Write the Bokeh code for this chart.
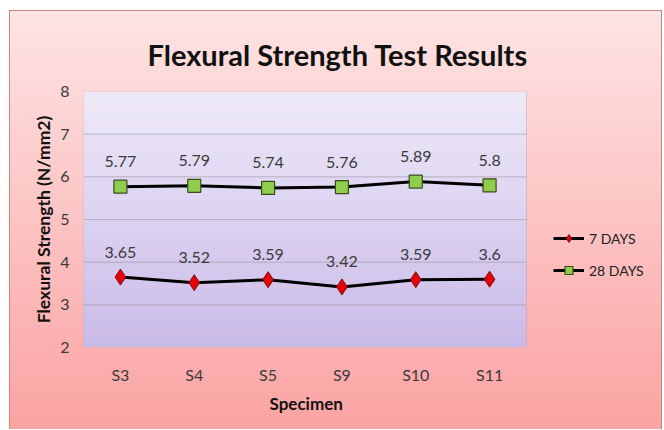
from bokeh.plotting import figure
from bokeh.models import (ColumnDataSource, LabelSet, Legend, LegendItem, BoxAnnotation,
                          Title, Range1d, FixedTicker)
from bokeh.core.properties import value
from bokeh.embed import file_html
from bokeh.resources import INLINE

specimens = ["S3", "S4", "S5", "S9", "S10", "S11"]
days7 = [3.65, 3.52, 3.59, 3.42, 3.59, 3.6]
days28 = [5.77, 5.79, 5.74, 5.76, 5.89, 5.8]
labels7 = ["3.65", "3.52", "3.59", "3.42", "3.59", "3.6"]
labels28 = ["5.77", "5.79", "5.74", "5.76", "5.89", "5.8"]
y_ticks = [2, 3, 4, 5, 6, 7, 8]

FONT = "Lato"
xpos = list(range(len(specimens)))
x_lo, x_hi = -0.5, len(specimens) - 0.5

FRAME_W = 575
x_end = x_lo + FRAME_W / (443 / len(specimens))

p = figure(x_range=Range1d(x_lo, x_end), y_range=Range1d(2, 8), width=653, height=419,
           output_backend="svg", toolbar_location=None,
           min_border_left=73, min_border_right=5, min_border_top=80, min_border_bottom=83,
           margin=(10, 0, 0, 9),
           styles={"background": "linear-gradient(#fee4e4, #fba3a3)",
                   "border-left": "1px solid #c98585", "border-top": "1px solid #c98585",
                   "border-right": "1px solid #c98585"})
p.border_fill_alpha = 0
p.background_fill_alpha = 0
p.outline_line_color = None

# lavender gradient in plot area
top = (238, 234, 249)
bot = (200, 186, 232)
n = 30
for i in range(n):
    t = (i + 0.5) / n
    c = tuple(int(round(bot[k] + (top[k] - bot[k]) * t)) for k in range(3))
    p.add_layout(BoxAnnotation(left=x_lo, right=x_hi,
                               bottom=2 + 6 * i / n, top=2 + 6 * (i + 1) / n,
                               fill_color="#%02x%02x%02x" % c, fill_alpha=1,
                               line_alpha=0, level="underlay"))
# horizontal grid lines limited to the plot area
for yt in y_ticks[1:-1]:
    p.add_layout(BoxAnnotation(left=x_lo, right=x_hi, bottom=yt, top=yt,
                               fill_alpha=0, line_color="#95939f", line_width=1,
                               level="underlay"))
# plot area border
p.add_layout(BoxAnnotation(left=x_lo, right=x_hi, bottom=2, top=8, fill_alpha=0,
                           line_color="#8f8aa6", line_width=1, level="underlay"))

src7 = ColumnDataSource(dict(x=xpos, y=days7, t=labels7))
src28 = ColumnDataSource(dict(x=xpos, y=days28, t=labels28))

l7 = p.line("x", "y", source=src7, line_color="black", line_width=3)
s7 = p.scatter("x", "y", source=src7, marker="diamond", size=16,
               fill_color="#e8000b", line_color="#7a1010", line_width=1)
l28 = p.line("x", "y", source=src28, line_color="black", line_width=3)
s28 = p.scatter("x", "y", source=src28, marker="square", size=13,
                fill_color="#8fce4c", line_color="#3b4a1e", line_width=1.2)

for src in (src7, src28):
    p.add_layout(LabelSet(x="x", y="y", text="t", source=src, y_offset=25,
                          text_align="center", text_baseline="middle",
                          text_font=value(FONT), text_font_size="16px", text_color="#3a3a3a"))

# axes
p.yaxis.ticker = FixedTicker(ticks=y_ticks)
p.xaxis.ticker = FixedTicker(ticks=xpos)
p.xaxis.major_label_overrides = {i: s for i, s in zip(xpos, specimens)}
p.xgrid.grid_line_color = None
p.ygrid.grid_line_color = None
for ax in (p.xaxis[0], p.yaxis[0]):
    ax.axis_line_color = None
    ax.major_tick_line_color = None
    ax.minor_tick_line_color = None
    ax.major_tick_out = 0
    ax.major_tick_in = 0
    ax.minor_tick_out = 0
    ax.major_label_text_font = FONT
    ax.major_label_text_font_size = "16px"
    ax.major_label_text_color = "#3a3a3a"
    ax.axis_label_text_font = FONT
    ax.axis_label_text_font_style = "bold"
    ax.axis_label_text_font_size = "17.5px"
    ax.axis_label_text_color = "#111111"
p.yaxis.major_label_standoff = 14
p.xaxis.major_label_standoff = 17
p.yaxis.axis_label = "Flexural Strength (N/mm2)"
p.yaxis.axis_label_standoff = 3

# x-axis title, centred under the plot area (not under the whole frame)
p.add_layout(Title(text="Specimen", align="left", offset=186, standoff=8,
                   text_font=FONT, text_font_size="17px", text_font_style="bold",
                   text_color="#111111"), "below")

p.title = Title(text="Flexural Strength Test Results", align="left", offset=64,
                text_font=FONT, text_font_size="29px", text_font_style="bold",
                text_color="#111111")
p.title.standoff = 40

legend = Legend(items=[LegendItem(label="7 DAYS", renderers=[l7, s7]),
                       LegendItem(label="28 DAYS", renderers=[l28, s28])],
                location=(470, 67), orientation="vertical",
                background_fill_alpha=0, border_line_alpha=0,
                padding=0, margin=0, spacing=12,
                glyph_width=31, glyph_height=20, label_height=20, label_standoff=5,
                label_text_font=FONT, label_text_font_size="14px", label_text_color="#222222")
p.add_layout(legend, "center")

open("out.html", "w").write(file_html(p, INLINE))
